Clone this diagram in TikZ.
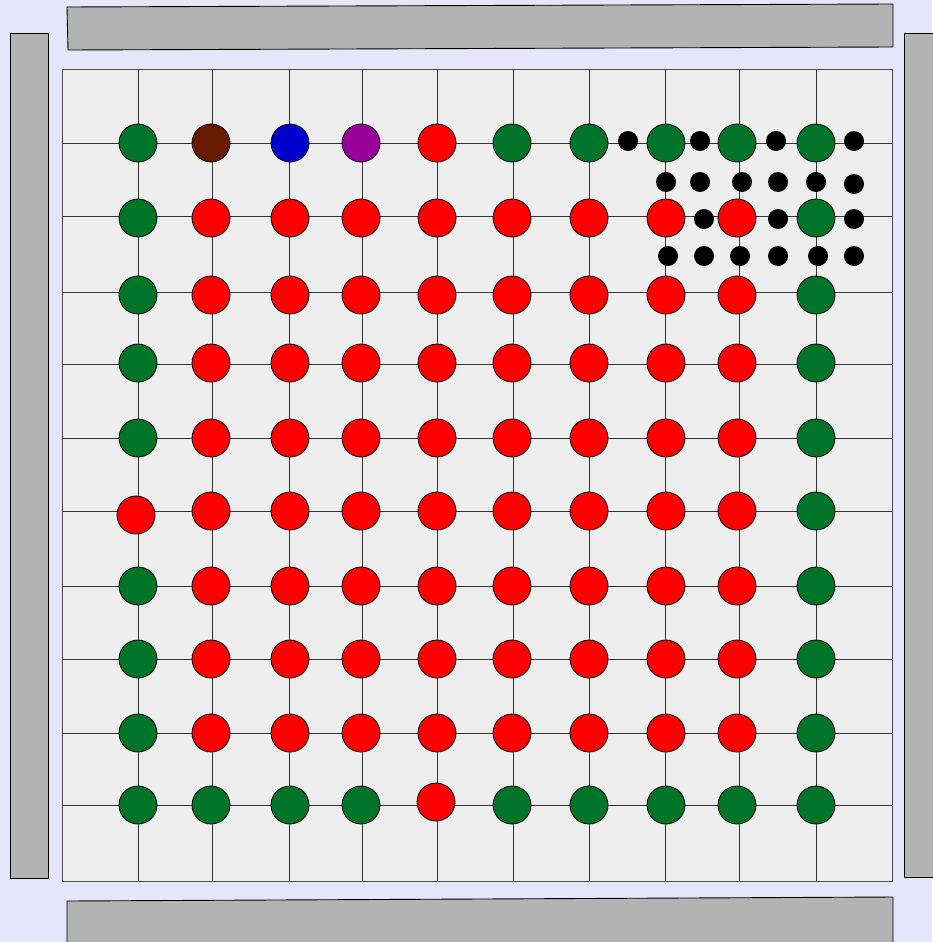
\documentclass[tikz,border=0pt]{standalone}
\definecolor{bg}{HTML}{E6E6FA}
\definecolor{barc}{HTML}{B3B3B3}
\definecolor{boardc}{HTML}{EEEEEE}
\definecolor{cG}{HTML}{00752A}
\definecolor{cR}{HTML}{FF0000}
\definecolor{cB}{HTML}{661A00}
\definecolor{cU}{HTML}{0000CC}
\definecolor{cP}{HTML}{990099}
\begin{document}
\begin{tikzpicture}[x=1pt,y=-1pt,
  stone/.style={circle,draw=black,line width=0.8pt,minimum size=38pt,inner sep=0pt},
  bdot/.style={circle,fill=black,minimum size=20pt,inner sep=0pt},
  barbox/.style={fill=barc,draw=black,line width=0.9pt},
  gridline/.style={draw=black!80,line width=0.9pt}]
\fill[bg] (0,0) rectangle (932,942);
\useasboundingbox (0,0) rectangle (932,942);
% bars
\filldraw[barbox] (67,7) -- (893,4) -- (893,47) -- (68,50) -- cycle;
\filldraw[barbox] (10,33) rectangle (48,878);
\filldraw[barbox] (904,33) rectangle (945,877);
\filldraw[barbox] (67,901) -- (893,897) -- (893,950) -- (67,950) -- cycle;
% board
\filldraw[fill=boardc,draw=black!70,line width=0.9pt] (62,69) rectangle (892,881);
\foreach \gx in {138,212,289,362,437,513,589,665,739,816}
  \draw[gridline] (\gx,69) -- (\gx,881);
\foreach \gy in {143,216,292,364,438,511,586,659,733,805}
  \draw[gridline] (62,\gy) -- (892,\gy);
% stones
\def\colx{{138,211,290,361,437,512,589,666,737,816}}
\foreach \yy/\row [count=\r] in {
  143/{G,B,U,P,R,G,G,G,G,G},
  218/{G,R,R,R,R,R,R,R,R,G},
  295/{G,R,R,R,R,R,R,R,R,G},
  363/{G,R,R,R,R,R,R,R,R,G},
  438/{G,R,R,R,R,R,R,R,R,G},
  511/{N,R,R,R,R,R,R,R,R,G},
  586/{G,R,R,R,R,R,R,R,R,G},
  659/{G,R,R,R,R,R,R,R,R,G},
  733/{G,R,R,R,R,R,R,R,R,G},
  805/{G,G,G,G,N,G,G,G,G,G}} {
  \foreach \c [count=\i] in \row {
    \pgfmathsetmacro\xx{\colx[\i-1]}
    \if N\c\else
      \node[stone,fill=c\c] (s\r-\i) at (\xx,\yy) {};
    \fi
  }
}
\node[stone,fill=cR] (s6-1) at (136,515) {};
\node[stone,fill=cR] (s10-5) at (436,802) {};
% black dots
\foreach \dx/\dy [count=\k] in {628/141,700/141,776/141,854/141,
  666/182,700/182,742/182,778/182,816/182,854/184,
  704/219,778/219,854/219,
  668/256,704/256,740/256,778/256,818/256,854/256}
  \node[bdot] (d\k) at (\dx,\dy) {};
\end{tikzpicture}
\end{document}
